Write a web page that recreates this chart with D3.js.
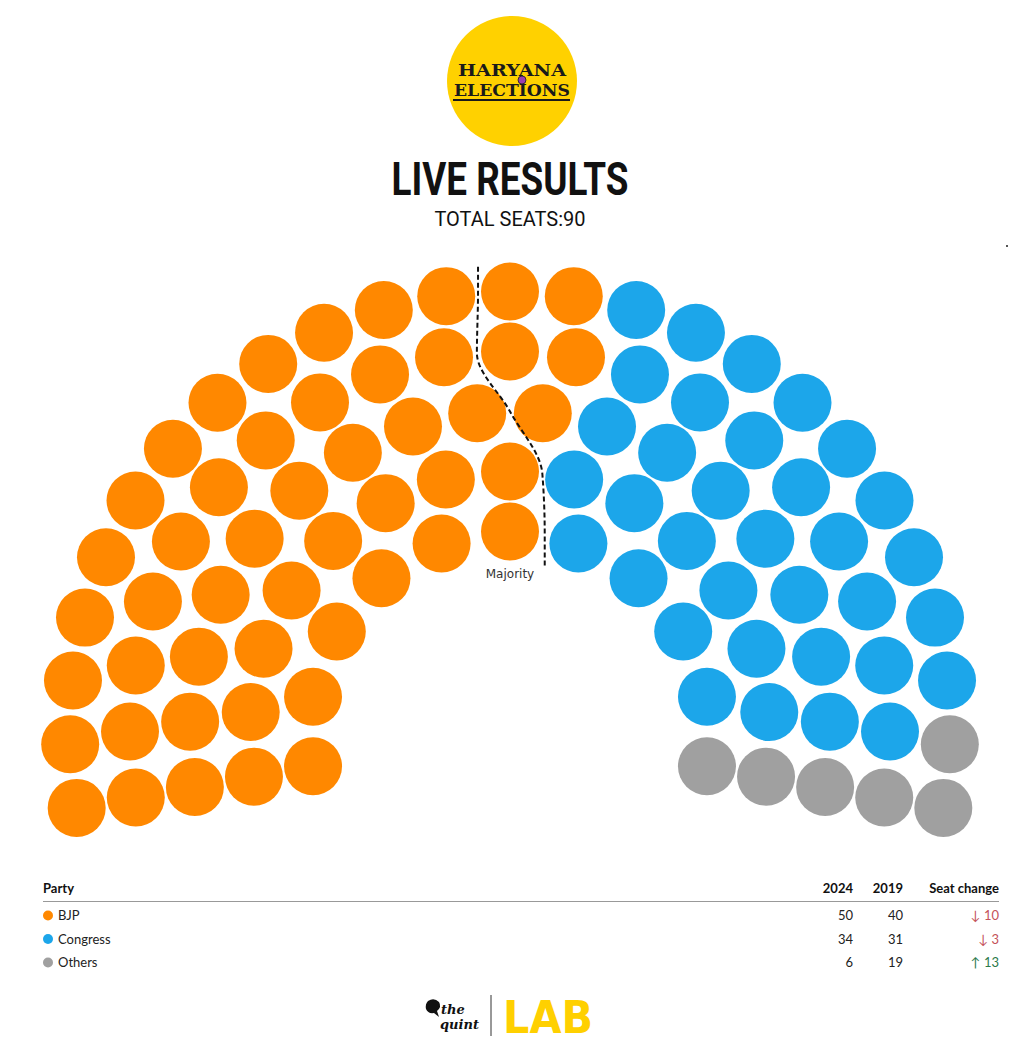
<!DOCTYPE html>
<html><head><meta charset="utf-8">
<script src="https://cdn.jsdelivr.net/npm/d3@7"></script>
<style>
html,body{margin:0;padding:0;background:#fff;}
svg{display:block;}
</style></head>
<body>
<div id="chart"></div>
<script>
// ---- data ----
const parties = ["BJP", "Congress", "Others"];
const seats2024 = [50, 34, 6];
const seats2019 = [40, 31, 19];
const seatChange = [10, 3, 13];
const changeDirection = ["down", "down", "up"];
const partyColors = ["#ff8800", "#1ca6ea", "#a0a0a0"];
const totalSeats = 90;
const tableHeaders = ["Party", "2024", "2019", "Seat change"];
const title = "LIVE RESULTS";
const subtitle = "TOTAL SEATS:90";
const logoLines = ["HARYANA", "ELECTIONS"];

// ---- layout ----
const W = 1020, H = 1053;
const svg = d3.select("#chart").append("svg").attr("width", W).attr("height", H);

// logo
const logo = svg.append("g");
logo.append("circle").attr("cx", 512).attr("cy", 81).attr("r", 65).attr("fill", "#ffd100");
const lt = logo.append("text").attr("text-anchor", "middle")
  .attr("font-family", "DejaVu Serif").attr("font-weight", "bold").attr("font-size", 17).attr("fill", "#1a1a1a");
lt.append("tspan").attr("x", 512).attr("y", 76).attr("textLength", 108).attr("lengthAdjust", "spacingAndGlyphs").text(logoLines[0]);
lt.append("tspan").attr("x", 512).attr("y", 96).attr("textLength", 116).attr("lengthAdjust", "spacingAndGlyphs").text(logoLines[1]);
logo.append("rect").attr("x", 453).attr("y", 99).attr("width", 117).attr("height", 2).attr("fill", "#1a1a1a");
logo.append("circle").attr("cx", 522).attr("cy", 80).attr("r", 4).attr("fill", "#9b3fb0").attr("stroke", "#1a1a1a").attr("stroke-width", 0.8);

svg.append("text").attr("x", 510).attr("y", 195).attr("text-anchor", "middle")
  .attr("font-family", "Roboto").attr("font-weight", "bold").attr("font-size", 46)
  .attr("textLength", 237).attr("lengthAdjust", "spacingAndGlyphs").attr("fill", "#111").text(title);
svg.append("text").attr("x", 510).attr("y", 226).attr("text-anchor", "middle")
  .attr("font-family", "Roboto").attr("font-size", 20).attr("fill", "#111").text(subtitle);

svg.append("rect").attr("x", 1006).attr("y", 245).attr("width", 2).attr("height", 2).attr("fill", "#555");

// ---- parliament ----
const cx = 510, cy = 731.5;
const nRings = 5;
const ringR = d3.scaleLinear().domain([0, nRings - 1]).range([200, 440]);
const radii = d3.range(nRings).map(ringR);
const sumR = d3.sum(radii);
const ringCounts = radii.map(r => Math.round(totalSeats * r / sumR));
const seatRadius = 29;
const angleStartDeg = -10, angleEndDeg = 190;

let seats = [];
ringCounts.forEach((n, ri) => {
  const a = d3.scaleLinear().domain([0, n - 1]).range([angleStartDeg, angleEndDeg]);
  for (let i = 0; i < n; i++) {
    const deg = a(i);
    const rad = deg * Math.PI / 180;
    seats.push({ring: ri, idx: i, deg, x: cx - radii[ri] * Math.cos(rad), y: cy - radii[ri] * Math.sin(rad)});
  }
});
seats.sort((p, q) => (p.deg - q.deg) || (p.ring - q.ring));
const cum = d3.cumsum(seats2024);
seats.forEach((s, k) => {
  s.order = k;
  s.party = cum.findIndex(c => k < c);
});

svg.append("g").selectAll("circle").data(seats).join("circle")
  .attr("cx", d => d.x).attr("cy", d => d.y).attr("r", seatRadius)
  .attr("fill", d => partyColors[d.party]);

// majority line
const majority = Math.floor(totalSeats / 2);
const pts = [];
for (let ri = nRings - 1; ri >= 0; ri--) {
  const rs = seats.filter(s => s.ring === ri);
  const left = d3.max(rs.filter(s => s.order < majority), s => s.deg);
  const right = d3.min(rs.filter(s => s.order >= majority), s => s.deg);
  const deg = (left + right) / 2, rad = deg * Math.PI / 180;
  pts.push([cx - radii[ri] * Math.cos(rad), cy - radii[ri] * Math.sin(rad)]);
}
const linePts = [[pts[0][0], pts[0][1] - 26], ...pts, [pts[pts.length - 1][0], pts[pts.length - 1][1] + 31]];
svg.append("path").attr("d", d3.line().curve(d3.curveMonotoneY)(linePts))
  .attr("fill", "none").attr("stroke", "#111").attr("stroke-width", 2).attr("stroke-dasharray", "5,3");
svg.append("text").attr("x", 510).attr("y", 578).attr("text-anchor", "middle")
  .attr("font-family", "DejaVu Sans").attr("font-size", 12).attr("fill", "#333").text("Majority");

// ---- table ----
const tbl = svg.append("g").attr("font-family", "Lato").attr("font-size", 13).attr("fill", "#222");
const colX = [43, 853, 903, 999];
tableHeaders.forEach((h, i) => {
  tbl.append("text").attr("x", colX[i]).attr("y", 893).attr("font-weight", "bold")
    .attr("text-anchor", i === 0 ? "start" : "end").attr("fill", "#111").text(h);
});
tbl.append("line").attr("x1", 43).attr("x2", 999).attr("y1", 901.5).attr("y2", 901.5)
  .attr("stroke", "#999").attr("stroke-width", 1);
const rowY = d3.scalePoint().domain(parties).range([920, 967]);
parties.forEach((p, i) => {
  const y = rowY(p);
  tbl.append("circle").attr("cx", 48).attr("cy", y - 4.5).attr("r", 5).attr("fill", partyColors[i]);
  tbl.append("text").attr("x", 58).attr("y", y).text(p);
  tbl.append("text").attr("x", colX[1]).attr("y", y).attr("text-anchor", "end").text(seats2024[i]);
  tbl.append("text").attr("x", colX[2]).attr("y", y).attr("text-anchor", "end").text(seats2019[i]);
  const up = changeDirection[i] === "up";
  tbl.append("text").attr("x", colX[3]).attr("y", y).attr("text-anchor", "end")
    .attr("fill", up ? "#2c7a4b" : "#c4525a")
    .text((up ? "\u2191 " : "\u2193 ") + seatChange[i]);
});

// ---- footer ----
const ft = svg.append("g");
ft.append("path").attr("d", "M428,1001 q6,-4 11,1 q3,5 -2,9 l2,6 l-5,-4 q-6,1 -8,-4 q-1,-5 2,-8z").attr("fill", "#111");
ft.append("text").attr("x", 441).attr("y", 1014).attr("font-family", "DejaVu Serif").attr("font-style", "italic")
  .attr("font-weight", "bold").attr("font-size", 13).attr("fill", "#111").text("the");
ft.append("text").attr("x", 440).attr("y", 1029).attr("font-family", "DejaVu Serif").attr("font-style", "italic")
  .attr("font-weight", "bold").attr("font-size", 13).attr("fill", "#111").text("quint");
ft.append("line").attr("x1", 491).attr("x2", 491).attr("y1", 995).attr("y2", 1036).attr("stroke", "#333").attr("stroke-width", 1);
ft.append("text").attr("x", 503).attr("y", 1033).attr("font-family", "DejaVu Sans").attr("font-weight", "bold")
  .attr("font-size", 44).attr("textLength", 90).attr("lengthAdjust", "spacingAndGlyphs").attr("fill", "#ffd000").text("LAB");
</script>
</body></html>
